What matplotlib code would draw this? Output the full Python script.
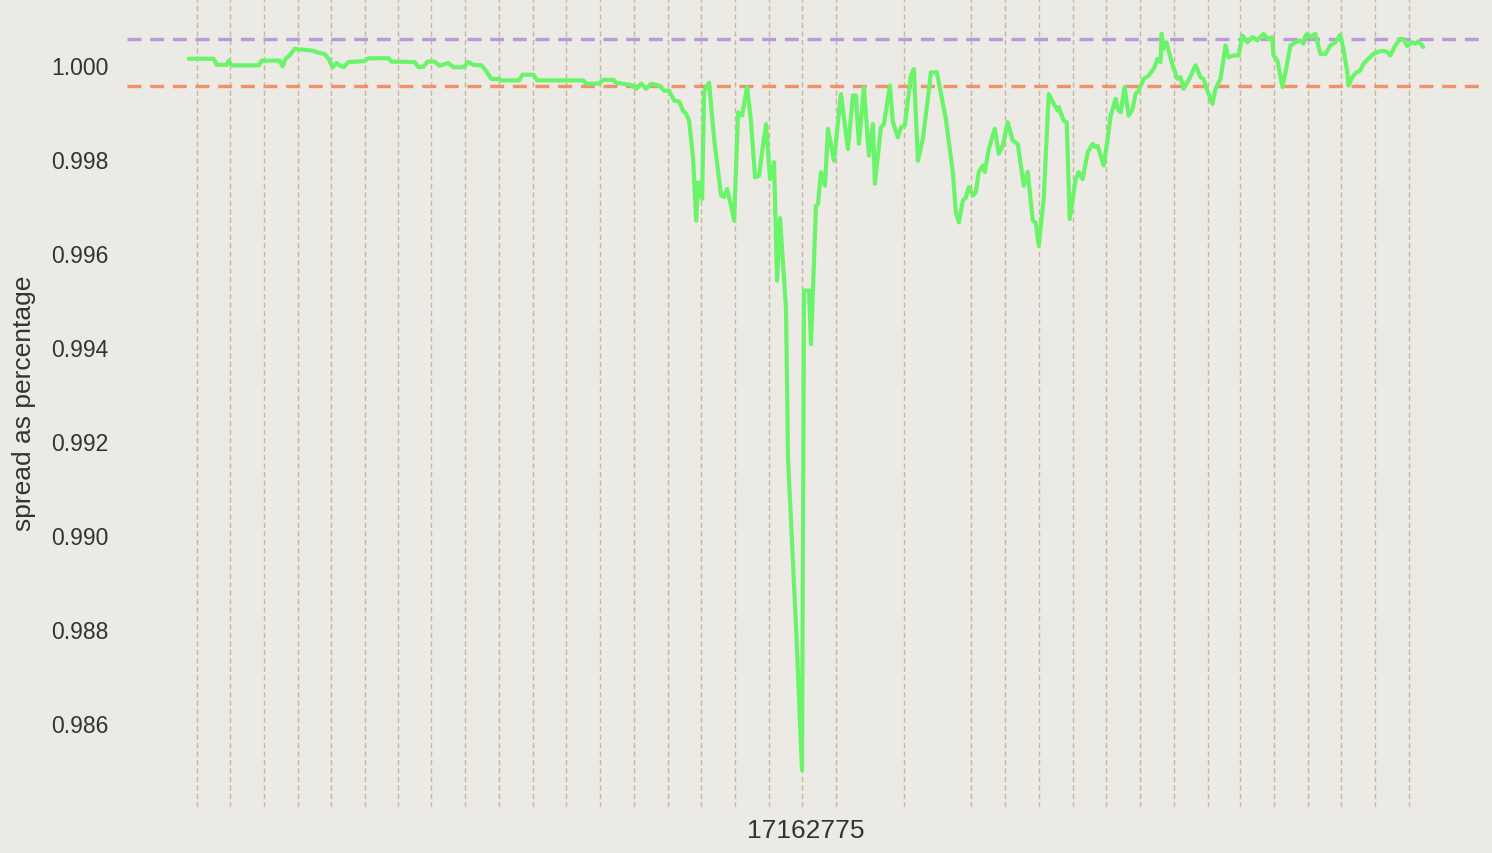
import matplotlib
matplotlib.use("Agg")
import matplotlib.pyplot as plt

plt.rcParams['font.family'] = ['Liberation Sans', 'DejaVu Sans']

# block offsets (x) and spread values (y)
block_offset = [
    0, 25, 28, 38, 40, 43, 70, 73, 91, 94,
    97, 101, 106, 125, 128, 136, 140, 144, 148, 150,
    155, 160, 176, 180, 200, 203, 226, 230, 235, 239,
    246, 251, 260, 265, 275, 280, 285, 293, 298, 303,
    310, 313, 331, 334, 345, 349, 395, 398, 411, 415,
    425, 428, 443, 448, 453, 458, 463, 471, 476, 481,
    486, 491, 495, 498, 501, 505, 508, 510, 514, 516,
    521, 526, 533, 536, 539, 543, 546, 550, 554, 559,
    563, 567, 571, 574, 578, 582, 586, 589, 592, 598,
    600, 608, 614, 616, 621, 623, 628, 630, 633, 637,
    640, 646, 653, 660, 665, 668, 671, 676, 681, 685,
    687, 693, 696, 702, 705, 710, 713, 717, 723, 726,
    730, 735, 740, 743, 749, 758, 765, 768, 771, 775,
    778, 781, 785, 788, 791, 795, 797, 801, 807, 811,
    815, 820, 825, 830, 836, 840, 845, 848, 851, 856,
    861, 866, 870, 871, 876, 879, 882, 888, 891, 895,
    900, 905, 908, 910, 916, 920, 923, 928, 930, 933,
    937, 941, 945, 948, 951, 956, 961, 966, 970, 973,
    974, 976, 979, 981, 985, 990, 993, 996, 1001, 1008,
    1013, 1016, 1021, 1025, 1028, 1033, 1038, 1041, 1046, 1051,
    1055, 1060, 1065, 1070, 1073, 1076, 1081, 1085, 1086, 1090,
    1095, 1098, 1103, 1108, 1113, 1116, 1118, 1120, 1123, 1128,
    1130, 1133, 1138, 1143, 1148, 1153, 1156, 1160, 1161, 1165,
    1169, 1173, 1176, 1181, 1186, 1191, 1196, 1200, 1203, 1208,
    1213, 1216, 1220, 1225, 1228, 1231, 1236,
]

spread = [
    1.00013, 1.00013, 1.00000, 1.00000, 1.00009, 0.99999, 0.99999, 1.00009, 1.00009, 0.99997,
    1.00013, 1.00020, 1.00034, 1.00030, 1.00027, 1.00023, 1.00013, 0.99995, 1.00004, 1.00000,
    0.99995, 1.00006, 1.00008, 1.00014, 1.00014, 1.00007, 1.00006, 0.99995, 0.99996, 1.00007,
    1.00007, 0.99998, 1.00004, 0.99995, 0.99995, 1.00006, 1.00000, 0.99999, 0.99986, 0.99970,
    0.99970, 0.99967, 0.99967, 0.99979, 0.99979, 0.99967, 0.99967, 0.99960, 0.99960, 0.99968,
    0.99968, 0.99962, 0.99957, 0.99949, 0.99960, 0.99949, 0.99960, 0.99956, 0.99945, 0.99945,
    0.99924, 0.99922, 0.99902, 0.99896, 0.99881, 0.99800, 0.99669, 0.99750, 0.99715, 0.99945,
    0.99962, 0.99843, 0.99722, 0.99719, 0.99736, 0.99701, 0.99669, 0.99899, 0.99892, 0.99953,
    0.99878, 0.99761, 0.99764, 0.99814, 0.99874, 0.99757, 0.99793, 0.99541, 0.99674, 0.99481,
    0.99162, 0.98806, 0.98500, 0.99520, 0.99520, 0.99406, 0.99700, 0.99704, 0.99772, 0.99743,
    0.99864, 0.99796, 0.99938, 0.99821, 0.99935, 0.99935, 0.99832, 0.99953, 0.99807, 0.99874,
    0.99747, 0.99867, 0.99874, 0.99956, 0.99878, 0.99846, 0.99867, 0.99871, 0.99977, 0.99991,
    0.99796, 0.99843, 0.99928, 0.99984, 0.99984, 0.99885, 0.99772, 0.99687, 0.99665, 0.99711,
    0.99718, 0.99740, 0.99722, 0.99729, 0.99772, 0.99786, 0.99772, 0.99821, 0.99864, 0.99811,
    0.99828, 0.99878, 0.99839, 0.99832, 0.99743, 0.99772, 0.99669, 0.99665, 0.99615, 0.99715,
    0.99938, 0.99917, 0.99903, 0.99910, 0.99881, 0.99878, 0.99672, 0.99757, 0.99772, 0.99757,
    0.99814, 0.99832, 0.99825, 0.99828, 0.99786, 0.99843, 0.99892, 0.99928, 0.99906, 0.99899,
    0.99953, 0.99892, 0.99906, 0.99938, 0.99945, 0.99970, 0.99977, 0.99991, 1.00013, 1.00006,
    1.00066, 1.00034, 1.00048, 1.00030, 0.99999, 0.99970, 0.99974, 0.99949, 0.99967, 0.99999,
    0.99974, 0.99970, 0.99938, 0.99917, 0.99949, 0.99970, 1.00041, 1.00016, 1.00020, 1.00020,
    1.00062, 1.00048, 1.00059, 1.00052, 1.00059, 1.00066, 1.00055, 1.00059, 1.00020, 1.00009,
    0.99953, 0.99984, 1.00041, 1.00048, 1.00052, 1.00045, 1.00062, 1.00066, 1.00059, 1.00066,
    1.00048, 1.00023, 1.00023, 1.00041, 1.00048, 1.00064, 1.00034, 0.99984, 0.99956, 0.99974,
    0.99984, 0.99988, 1.00002, 1.00013, 1.00023, 1.00028, 1.00030, 1.00027, 1.00020, 1.00041,
    1.00055, 1.00055, 1.00040, 1.00048, 1.00045, 1.00050, 1.00038,
]

# vertical marker positions (block offsets)
marker_blocks = [8, 41, 75, 109, 142, 176, 210, 243, 277, 311, 345, 378, 412, 446,
                 480, 513, 547, 581, 614, 648, 716, 783, 817, 851, 885, 918, 952,
                 986, 1020, 1053, 1087, 1121, 1154, 1188, 1222]

upper_threshold = 1.00055
lower_threshold = 0.99955
x_label = "17162775"
y_label = "spread as percentage"
y_ticks = [0.986, 0.988, 0.990, 0.992, 0.994, 0.996, 0.998, 1.000]

bg = '#ebeae4'
fig = plt.figure(figsize=(14.92, 8.54), dpi=100, facecolor=bg)
ax = fig.add_axes([127 / 1492, 46 / 854, 1358 / 1492, 810 / 854])
ax.set_facecolor(bg)

for xb in marker_blocks:
    ax.axvline(xb, color='#c3b6a2', lw=1.0, linestyle=(0, (3.7, 2.4)), zorder=1)

ax.axhline(upper_threshold, color='#b89ad9', lw=2.4, linestyle=(0, (4.2, 2.6)), zorder=2)
ax.axhline(lower_threshold, color='#f0916b', lw=2.4, linestyle=(0, (4.2, 2.6)), zorder=2)

ax.plot(block_offset, spread, color='#6af46a', lw=3.0, zorder=3,
        solid_joinstyle='round', solid_capstyle='round')

for s in ax.spines.values():
    s.set_visible(False)

ax.set_xticks([])
ax.set_yticks(y_ticks)
ax.set_yticklabels([f"{v:.3f}" for v in y_ticks])
ax.tick_params(axis='y', length=0, pad=13.5, labelsize=16.5, labelcolor='#333333')
ax.set_xlabel(x_label, fontsize=19, color='#333333', labelpad=8)
ax.set_ylabel(y_label, fontsize=19, color='#333333', labelpad=10.5)

fig.savefig('out.png', dpi=100, facecolor=bg)
